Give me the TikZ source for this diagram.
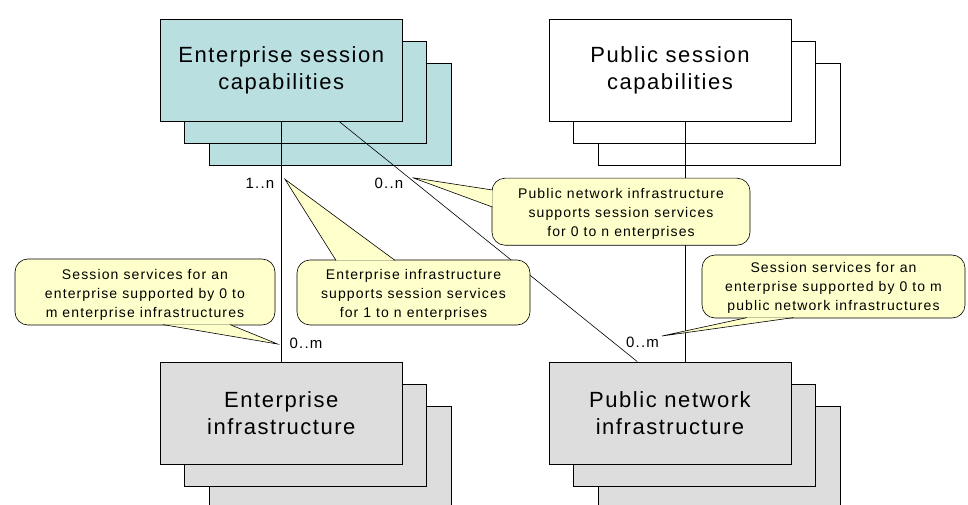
\documentclass[tikz,border=0pt]{standalone}
\usepackage{fontspec}
\setmainfont{Liberation Sans}
\newfontfamily\boxfont[LetterSpace=7]{Liberation Sans}
\newfontfamily\notefont[LetterSpace=8]{Liberation Sans}
\usetikzlibrary{calc}

\definecolor{enterprisefill}{RGB}{185,223,225}
\definecolor{infrafill}{RGB}{221,221,221}
\definecolor{notefill}{RGB}{255,255,204}

\tikzset{
  card/.style={draw, line width=0.8pt, minimum width=242pt, minimum height=102pt,
    inner sep=0pt, align=center, font=\boxfont\fontsize{22}{27}\selectfont},
  note/.style={draw, line width=0.6pt, fill=notefill, rounded corners=13pt, inner sep=0pt},
  notetext/.style={inner sep=0pt, align=center, font=\notefont\fontsize{14}{19}\selectfont},
  mult/.style={inner sep=0pt, font=\notefont\fontsize{15}{18}\selectfont},
  link/.style={line width=0.6pt}
}

% pointer of a callout: base point, tip, base point
\newcommand{\notewedge}[3]{%
  \fill[notefill] (#1) -- (#2) -- (#3) -- cycle;
  \draw[link] (#1) -- (#2) -- (#3);}

\begin{document}
\begin{tikzpicture}[x=1pt, y=-1pt]
    \useasboundingbox (0,0) rectangle (968,505);
    \clip (0,0) rectangle (968,505);

    % Enterprise session capabilities (stack)
    \node[card, fill=enterprisefill] (esc3) at (330.3,114) {};
    \node[card, fill=enterprisefill] (esc2) at (305.7,92) {};
    \node[card, fill=enterprisefill] (esc) at (281.3,70) {Enterprise session\\capabilities};

    % Public session capabilities (stack)
    \node[card, fill=white] (psc3) at (719,114) {};
    \node[card, fill=white] (psc2) at (694.5,92) {};
    \node[card, fill=white] (psc) at (670,70) {Public session\\capabilities};

    % Enterprise infrastructure (stack)
    \node[card, fill=infrafill] (ei3) at (330.3,457) {};
    \node[card, fill=infrafill] (ei2) at (305.7,435) {};
    \node[card, fill=infrafill] (ei) at (281.3,413) {Enterprise\\infrastructure};

    % Public network infrastructure (stack)
    \node[card, fill=infrafill] (pni3) at (719,457) {};
    \node[card, fill=infrafill] (pni2) at (694.5,435) {};
    \node[card, fill=infrafill] (pni) at (670,413) {Public network\\infrastructure};

    % Associations
    \draw[link] (esc.south) -- (ei.north);
    \draw[link] ([xshift=57.7]esc.south) -- ([xshift=-32.7]pni.north);
    \draw[link] ([xshift=15.7]psc.south) -- ([xshift=15.7]pni.north);

    % Multiplicities
    \node[mult] (onen) at (260,183) {1..n};
    \node[mult] (zeron) at (389,183) {0..n};
    \node[mult] (zeromei) at (306,343) {0..m};
    \node[mult] (zerompni) at (642.5,342) {0..m};

    % Callout tips
    \coordinate (tippnsupport) at (412.7,177.7);
    \coordinate (tipeisupport) at (285,179.3);
    \coordinate (tipeiservice) at (277.5,344);
    \coordinate (tippniservice) at (662,336);

    % Callouts
    \node[note, minimum width=258pt, minimum height=67pt] (pnsupport) at (621,211.7) {};
    \notewedge{$(pnsupport.west)+(0.7,-21.7)$}{tippnsupport}{$(pnsupport.west)+(0.7,-4.7)$}
    \node[notetext] (pnsupporttext) at ($(pnsupport.center)+(0,2.5)$)
        {Public network infrastructure\\supports session services\\for 0 to n enterprises};

    \node[note, minimum width=233pt, minimum height=65pt] (eisupport) at (413.5,292.5) {};
    \notewedge{$(eisupport.north)+(-77.5,0.7)$}{tipeisupport}{$(eisupport.north)+(-18.5,0.7)$}
    \node[notetext] (eisupporttext) at ($(eisupport.center)+(0,2.5)$)
        {Enterprise infrastructure\\supports session services\\for 1 to n enterprises};

    \node[note, minimum width=260pt, minimum height=66pt] (eiservice) at (145,292) {};
    \notewedge{$(eiservice.south)+(18,-0.7)$}{tipeiservice}{$(eiservice.south)+(85,-0.7)$}
    \node[notetext] (eiservicetext) at ($(eiservice.center)+(0,2.5)$)
        {Session services for an\\enterprise supported by 0 to\\m enterprise infrastructures};

    \node[note, minimum width=263pt, minimum height=63pt] (pniservice) at (833.5,286.5) {};
    \notewedge{$(pniservice.south)+(-86.5,-0.7)$}{tippniservice}{$(pniservice.south)+(-40,-0.7)$}
    \node[notetext] (pniservicetext) at ($(pniservice.center)+(0,1)$)
        {Session services for an\\enterprise supported by 0 to m\\public network infrastructures};
\end{tikzpicture}
\end{document}
